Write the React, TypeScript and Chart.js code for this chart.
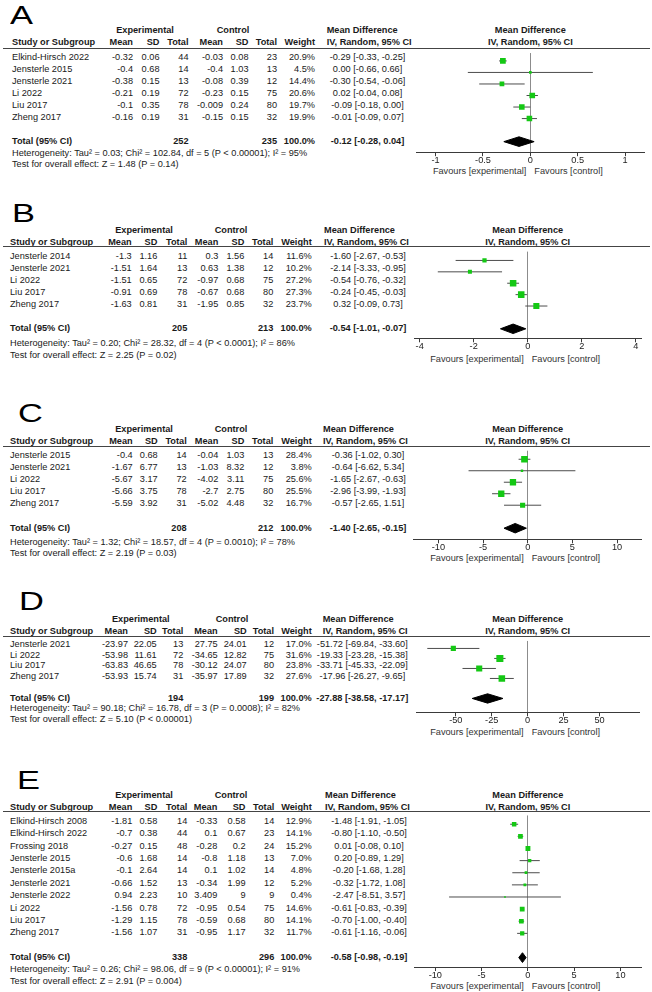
import React, { useEffect, useRef } from "react";
import { Chart, registerables } from "chart.js";

Chart.register(...registerables);

const FONT = '"Liberation Sans", Arial, Helvetica, sans-serif';
const TEXT = "#1a1a1a";
const GREEN = "#14c814";
const CI_COLOR = "#4d4d4d";
const ZERO_COLOR = "#8c8c8c";
const AXIS_COLOR = "#3a3a3a";
const FS = 9.2;

// ---------------- Panel A ----------------
const A_STUDIES = ["Elkind-Hirsch 2022", "Jensterle 2015", "Jensterle 2021", "Li 2022", "Liu 2017", "Zheng 2017"];
const A_EXP_MEAN = [-0.32, -0.4, -0.38, -0.21, -0.1, -0.16];
const A_EXP_SD = [0.06, 0.68, 0.15, 0.19, 0.35, 0.19];
const A_EXP_N = [44, 14, 13, 72, 78, 31];
const A_CTL_MEAN = [-0.03, -0.4, -0.08, -0.23, -0.009, -0.15];
const A_CTL_SD = [0.08, 1.03, 0.39, 0.15, 0.24, 0.15];
const A_CTL_N = [23, 13, 12, 75, 80, 32];
const A_WEIGHT = [20.9, 4.5, 14.4, 20.6, 19.7, 19.9];
const A_MD = [-0.29, 0.0, -0.3, 0.02, -0.09, -0.01];
const A_LO = [-0.33, -0.66, -0.54, -0.04, -0.18, -0.09];
const A_HI = [-0.25, 0.66, -0.06, 0.08, 0.0, 0.07];
const A_TOTAL_N = [252, 235];
const A_TOTAL = [-0.12, -0.28, 0.04];
const A_HET = "Heterogeneity: Tau² = 0.03; Chi² = 102.84, df = 5 (P < 0.00001); I² = 95%";
const A_TEST = "Test for overall effect: Z = 1.48 (P = 0.14)";
const A_TICKS = [-1, -0.5, 0, 0.5, 1];
const A_TICK_LABELS = ["-1", "-0.5", "0", "0.5", "1"];
const A_RANGE = [-1.2, 1.2];

// ---------------- Panel B ----------------
const B_STUDIES = ["Jensterle 2014", "Jensterle 2021", "Li 2022", "Liu 2017", "Zheng 2017"];
const B_EXP_MEAN = [-1.3, -1.51, -1.51, -0.91, -1.63];
const B_EXP_SD = [1.16, 1.64, 0.65, 0.69, 0.81];
const B_EXP_N = [11, 13, 72, 78, 31];
const B_CTL_MEAN = [0.3, 0.63, -0.97, -0.67, -1.95];
const B_CTL_SD = [1.56, 1.38, 0.68, 0.68, 0.85];
const B_CTL_N = [14, 12, 75, 80, 32];
const B_WEIGHT = [11.6, 10.2, 27.2, 27.3, 23.7];
const B_MD = [-1.6, -2.14, -0.54, -0.24, 0.32];
const B_LO = [-2.67, -3.33, -0.76, -0.45, -0.09];
const B_HI = [-0.53, -0.95, -0.32, -0.03, 0.73];
const B_TOTAL_N = [205, 213];
const B_TOTAL = [-0.54, -1.01, -0.07];
const B_HET = "Heterogeneity: Tau² = 0.20; Chi² = 28.32, df = 4 (P < 0.0001); I² = 86%";
const B_TEST = "Test for overall effect: Z = 2.25 (P = 0.02)";
const B_TICKS = [-4, -2, 0, 2, 4];
const B_TICK_LABELS = ["-4", "-2", "0", "2", "4"];
const B_RANGE = [-4.2, 4.2];

// ---------------- Panel C ----------------
const C_STUDIES = ["Jensterle 2015", "Jensterle 2021", "Li 2022", "Liu 2017", "Zheng 2017"];
const C_EXP_MEAN = [-0.4, -1.67, -5.67, -5.66, -5.59];
const C_EXP_SD = [0.68, 6.77, 3.17, 3.75, 3.92];
const C_EXP_N = [14, 13, 72, 78, 31];
const C_CTL_MEAN = [-0.04, -1.03, -4.02, -2.7, -5.02];
const C_CTL_SD = [1.03, 8.32, 3.11, 2.75, 4.48];
const C_CTL_N = [13, 12, 75, 80, 32];
const C_WEIGHT = [28.4, 3.8, 25.6, 25.5, 16.7];
const C_MD = [-0.36, -0.64, -1.65, -2.96, -0.57];
const C_LO = [-1.02, -6.62, -2.67, -3.99, -2.65];
const C_HI = [0.3, 5.34, -0.63, -1.93, 1.51];
const C_TOTAL_N = [208, 212];
const C_TOTAL = [-1.4, -2.65, -0.15];
const C_HET = "Heterogeneity: Tau² = 1.32; Chi² = 18.57, df = 4 (P = 0.0010); I² = 78%";
const C_TEST = "Test for overall effect: Z = 2.19 (P = 0.03)";
const C_TICKS = [-10, -5, 0, 5, 10];
const C_TICK_LABELS = ["-10", "-5", "0", "5", "10"];
const C_RANGE = [-12.75, 12.75];

// ---------------- Panel D ----------------
const D_STUDIES = ["Jensterle 2021", "Li 2022", "Liu 2017", "Zheng 2017"];
const D_EXP_MEAN = [-23.97, -53.98, -63.83, -53.93];
const D_EXP_SD = [22.05, 11.61, 46.65, 15.74];
const D_EXP_N = [13, 72, 78, 31];
const D_CTL_MEAN = [27.75, -34.65, -30.12, -35.97];
const D_CTL_SD = [24.01, 12.82, 24.07, 17.89];
const D_CTL_N = [12, 75, 80, 32];
const D_WEIGHT = [17.0, 31.6, 23.8, 27.6];
const D_MD = [-51.72, -19.33, -33.71, -17.96];
const D_LO = [-69.84, -23.28, -45.33, -26.27];
const D_HI = [-33.6, -15.38, -22.09, -9.65];
const D_TOTAL_N = [194, 199];
const D_TOTAL = [-27.88, -38.58, -17.17];
const D_HET = "Heterogeneity: Tau² = 90.18; Chi² = 16.78, df = 3 (P = 0.0008); I² = 82%";
const D_TEST = "Test for overall effect: Z = 5.10 (P < 0.00001)";
const D_TICKS = [-50, -25, 0, 25, 50];
const D_TICK_LABELS = ["-50", "-25", "0", "25", "50"];
const D_RANGE = [-77.7, 77.7];

// ---------------- Panel E ----------------
const E_STUDIES = [
  "Elkind-Hirsch 2008", "Elkind-Hirsch 2022", "Frossing 2018", "Jensterle 2015", "Jensterle 2015a",
  "Jensterle 2021", "Jensterle 2022", "Li 2022", "Liu 2017", "Zheng 2017",
];
const E_EXP_MEAN = [-1.81, -0.7, -0.27, -0.6, -0.1, -0.66, 0.94, -1.56, -1.29, -1.56];
const E_EXP_SD = [0.58, 0.38, 0.15, 1.68, 2.64, 1.52, 2.23, 0.78, 1.15, 1.07];
const E_EXP_N = [14, 44, 48, 14, 14, 13, 10, 72, 78, 31];
const E_CTL_MEAN = [-0.33, 0.1, -0.28, -0.8, 0.1, -0.34, 3.409, -0.95, -0.59, -0.95];
const E_CTL_SD = [0.58, 0.67, 0.2, 1.18, 1.02, 1.99, 9, 0.54, 0.68, 1.17];
const E_CTL_N = [14, 23, 24, 13, 14, 12, 9, 75, 80, 32];
const E_WEIGHT = [12.9, 14.1, 15.2, 7.0, 4.8, 5.2, 0.4, 14.6, 14.1, 11.7];
const E_MD = [-1.48, -0.8, 0.01, 0.2, -0.2, -0.32, -2.47, -0.61, -0.7, -0.61];
const E_LO = [-1.91, -1.1, -0.08, -0.89, -1.68, -1.72, -8.51, -0.83, -1.0, -1.16];
const E_HI = [-1.05, -0.5, 0.1, 1.29, 1.28, 1.08, 3.57, -0.39, -0.4, -0.06];
const E_TOTAL_N = [338, 296];
const E_TOTAL = [-0.58, -0.98, -0.19];
const E_HET = "Heterogeneity: Tau² = 0.26; Chi² = 98.06, df = 9 (P < 0.00001); I² = 91%";
const E_TEST = "Test for overall effect: Z = 2.91 (P = 0.004)";
const E_TICKS = [-10, -5, 0, 5, 10];
const E_TICK_LABELS = ["-10", "-5", "0", "5", "10"];
const E_RANGE = [-12.3, 12.3];

type Panel = {
  letter: string;
  studies: string[];
  expMean: number[];
  expSd: number[];
  expN: number[];
  ctlMean: number[];
  ctlSd: number[];
  ctlN: number[];
  weight: number[];
  md: number[];
  lo: number[];
  hi: number[];
  totalN: number[];
  total: number[];
  het: string;
  test: string;
  ticks: number[];
  tickLabels: string[];
  range: number[];
};

const PANELS: Panel[] = [
  { letter: "A", studies: A_STUDIES, expMean: A_EXP_MEAN, expSd: A_EXP_SD, expN: A_EXP_N, ctlMean: A_CTL_MEAN, ctlSd: A_CTL_SD, ctlN: A_CTL_N, weight: A_WEIGHT, md: A_MD, lo: A_LO, hi: A_HI, totalN: A_TOTAL_N, total: A_TOTAL, het: A_HET, test: A_TEST, ticks: A_TICKS, tickLabels: A_TICK_LABELS, range: A_RANGE },
  { letter: "B", studies: B_STUDIES, expMean: B_EXP_MEAN, expSd: B_EXP_SD, expN: B_EXP_N, ctlMean: B_CTL_MEAN, ctlSd: B_CTL_SD, ctlN: B_CTL_N, weight: B_WEIGHT, md: B_MD, lo: B_LO, hi: B_HI, totalN: B_TOTAL_N, total: B_TOTAL, het: B_HET, test: B_TEST, ticks: B_TICKS, tickLabels: B_TICK_LABELS, range: B_RANGE },
  { letter: "C", studies: C_STUDIES, expMean: C_EXP_MEAN, expSd: C_EXP_SD, expN: C_EXP_N, ctlMean: C_CTL_MEAN, ctlSd: C_CTL_SD, ctlN: C_CTL_N, weight: C_WEIGHT, md: C_MD, lo: C_LO, hi: C_HI, totalN: C_TOTAL_N, total: C_TOTAL, het: C_HET, test: C_TEST, ticks: C_TICKS, tickLabels: C_TICK_LABELS, range: C_RANGE },
  { letter: "D", studies: D_STUDIES, expMean: D_EXP_MEAN, expSd: D_EXP_SD, expN: D_EXP_N, ctlMean: D_CTL_MEAN, ctlSd: D_CTL_SD, ctlN: D_CTL_N, weight: D_WEIGHT, md: D_MD, lo: D_LO, hi: D_HI, totalN: D_TOTAL_N, total: D_TOTAL, het: D_HET, test: D_TEST, ticks: D_TICKS, tickLabels: D_TICK_LABELS, range: D_RANGE },
  { letter: "E", studies: E_STUDIES, expMean: E_EXP_MEAN, expSd: E_EXP_SD, expN: E_EXP_N, ctlMean: E_CTL_MEAN, ctlSd: E_CTL_SD, ctlN: E_CTL_N, weight: E_WEIGHT, md: E_MD, lo: E_LO, hi: E_HI, totalN: E_TOTAL_N, total: E_TOTAL, het: E_HET, test: E_TEST, ticks: E_TICKS, tickLabels: E_TICK_LABELS, range: E_RANGE },
];

// ---------------- Layout (positions only) ----------------
type Layout = {
  letterX: number; capTop: number; hdr1: number; hdr2: number; line: number; row0: number; step: number;
  axis: number; fav: number; het: number; test: number; plotL: number; plotR: number;
  study: number; mean: number; sd: number; tot: number; cmean: number; csd: number; ctot: number;
  weight: number; ciC: number; ciHdr: number; expC: number; ctlC: number;
};

const LAYOUTS: Layout[] = [
  { letterX: 10, capTop: 5, hdr1: 30, hdr2: 42, line: 48.5, row0: 56.7, step: 12, axis: 151.7, fav: 170.7, het: 152.5, test: 164, plotL: 416.7, plotR: 644,
    study: 12, mean: 133, sd: 159.5, tot: 188.5, cmean: 223, csd: 248.5, ctot: 277, weight: 315, ciC: 367.5, ciHdr: 326.7, expC: 145, ctlC: 233 },
  { letterX: 11.5, capTop: 203.3, hdr1: 230, hdr2: 241.7, line: 246.7, row0: 256, step: 12, axis: 338, fav: 359, het: 343.3, test: 355, plotL: 414.3, plotR: 641.1,
    study: 10, mean: 131.7, sd: 157.3, tot: 187.3, cmean: 218.3, csd: 244.3, ctot: 273.3, weight: 311.7, ciC: 368, ciHdr: 324, expC: 144, ctlC: 231 },
  { letterX: 18, capTop: 403.3, hdr1: 429.3, hdr2: 441, line: 446, row0: 455, step: 12.1, axis: 539.3, fav: 558.3, het: 541.5, test: 553, plotL: 413.8, plotR: 641.6,
    study: 10, mean: 132.7, sd: 157.7, tot: 186.7, cmean: 218.3, csd: 244.3, ctot: 273.3, weight: 311.7, ciC: 368, ciHdr: 323, expC: 144, ctlC: 231 },
  { letterX: 19, capTop: 591.7, hdr1: 619.3, hdr2: 631, line: 636, row0: 644, step: 10.7, axis: 712.3, fav: 731.7, het: 708, test: 718.5, plotL: 416, plotR: 639.3,
    study: 10, mean: 128, sd: 156.7, tot: 183.3, cmean: 217.7, csd: 246.7, ctot: 274, weight: 311.7, ciC: 362.3, ciHdr: 322.7, expC: 140.8, ctlC: 232 },
  { letterX: 17, capTop: 770, hdr1: 795, hdr2: 806.7, line: 811.7, row0: 820.7, step: 12.4, axis: 966.7, fav: 985.7, het: 969.3, test: 980.7, plotL: 414, plotR: 641.7,
    study: 10, mean: 132.3, sd: 157.3, tot: 187.3, cmean: 217.3, csd: 245.5, ctot: 274.3, weight: 311.7, ciC: 369, ciHdr: 325, expC: 144, ctlC: 231 },
];

const CANVAS_LEFT = 400;
const CANVAS_W = 252;
const XSCALE_H = 20;
const LETTER_FS = 26.5;

function T({ x, y, a = "l", b = false, children, color = TEXT }: { x: number; y: number; a?: string; b?: boolean; children: any; color?: string }) {
  const tx = a === "r" ? "translateX(-100%)" : a === "c" ? "translateX(-50%)" : "none";
  return (
    <div
      style={{
        position: "absolute",
        left: x,
        top: y - 6,
        lineHeight: "12px",
        fontSize: FS,
        fontFamily: FONT,
        fontWeight: b ? 700 : 400,
        whiteSpace: "nowrap",
        transform: tx,
        color,
      }}
    >
      {children}
    </div>
  );
}

const fmtCI = (m: number, lo: number, hi: number) => `${m.toFixed(2)} [${lo.toFixed(2)}, ${hi.toFixed(2)}]`;

function ForestChart({ p, l }: { p: Panel; l: Layout }) {
  const ref = useRef<HTMLCanvasElement | null>(null);
  useEffect(() => {
    if (!ref.current) return;
    const n = p.studies.length;
    const totalRow = n + 1;
    const yMin = (l.line - l.row0) / l.step;
    const yMax = (l.axis - l.row0) / l.step;
    const dh = 5 / l.step;
    const [tm, tlo, thi] = p.total;
    const datasets: any[] = [];
    datasets.push({
      type: "scatter",
      data: p.md.map((m, i) => ({ x: m, y: i })),
      pointStyle: "rect",
      pointRadius: p.weight.map((w) => Math.max(1.25 * Math.sqrt(w), 1.7) / Math.SQRT2),
      pointHoverRadius: p.weight.map((w) => Math.max(1.25 * Math.sqrt(w), 1.7) / Math.SQRT2),
      backgroundColor: GREEN,
      borderColor: GREEN,
      pointBorderWidth: 0,
      showLine: false,
      order: 0,
    });
    datasets.push({
      type: "line",
      data: [
        { x: tlo, y: totalRow },
        { x: tm, y: totalRow - dh },
        { x: thi, y: totalRow },
        { x: tm, y: totalRow + dh },
        { x: tlo, y: totalRow },
      ],
      borderColor: "#000",
      backgroundColor: "#000",
      borderWidth: 1,
      pointRadius: 0,
      fill: "shape",
      showLine: true,
      tension: 0,
      order: 1,
    });
    p.lo.forEach((lo, i) => {
      datasets.push({
        type: "line",
        data: [
          { x: lo, y: i },
          { x: p.hi[i], y: i },
        ],
        borderColor: CI_COLOR,
        borderWidth: 1,
        pointRadius: 0,
        showLine: true,
        fill: false,
        order: 2,
      });
    });
    const chart = new Chart(ref.current, {
      type: "scatter",
      data: { datasets },
      options: {
        animation: false,
        responsive: true,
        maintainAspectRatio: false,
        events: [],
        layout: { padding: { left: l.plotL - CANVAS_LEFT, right: CANVAS_LEFT + CANVAS_W - l.plotR, top: 0, bottom: 0 } },
        plugins: { legend: { display: false }, tooltip: { enabled: false }, title: { display: false } },
        scales: {
          x: {
            type: "linear",
            min: p.range[0],
            max: p.range[1],
            afterBuildTicks: (s: any) => {
              s.ticks = p.ticks.map((v) => ({ value: v }));
            },
            afterFit: (s: any) => {
              s.height = XSCALE_H;
            },
            grid: {
              color: (ctx: any) => (ctx.tick && ctx.tick.value === 0 ? ZERO_COLOR : "rgba(0,0,0,0)"),
              lineWidth: 1,
              drawTicks: true,
              tickLength: 4,
              tickColor: AXIS_COLOR,
            },
            border: { display: true, color: AXIS_COLOR, width: 1 },
            ticks: {
              autoSkip: false,
              maxRotation: 0,
              padding: 0,
              color: "#222",
              font: { family: FONT, size: FS, lineHeight: 1 },
              callback: (_v: any, i: number) => p.tickLabels[i],
            },
          },
          y: { type: "linear", display: false, reverse: true, min: yMin, max: yMax },
        },
      } as any,
    });
    return () => chart.destroy();
  }, [p, l]);
  return (
    <div style={{ position: "absolute", left: CANVAS_LEFT, top: l.line, width: CANVAS_W, height: l.axis - l.line + XSCALE_H }}>
      <canvas ref={ref} />
    </div>
  );
}

function PanelView({ p, l }: { p: Panel; l: Layout }) {
  const n = p.studies.length;
  const rowY = (i: number) => l.row0 + i * l.step;
  const totY = rowY(n + 1);
  const zeroX = l.plotL + ((0 - p.range[0]) / (p.range[1] - p.range[0])) * (l.plotR - l.plotL);
  return (
    <>
      <div
        style={{
          position: "absolute",
          left: l.letterX,
          top: l.capTop - 0.1305 * LETTER_FS,
          fontSize: LETTER_FS,
          lineHeight: `${LETTER_FS}px`,
          fontFamily: FONT,
          color: "#000",
          transform: "scaleX(1.3)",
          transformOrigin: "left top",
        }}
      >
        {p.letter}
      </div>
      <T x={l.expC} y={l.hdr1} a="c" b>Experimental</T>
      <T x={l.ctlC} y={l.hdr1} a="c" b>Control</T>
      <T x={l.ciHdr} y={l.hdr1} b>Mean Difference</T>
      <T x={zeroX} y={l.hdr1} a="c" b>Mean Difference</T>
      <T x={l.study} y={l.hdr2} b>Study or Subgroup</T>
      <T x={l.mean} y={l.hdr2} a="r" b>Mean</T>
      <T x={l.sd} y={l.hdr2} a="r" b>SD</T>
      <T x={l.tot} y={l.hdr2} a="r" b>Total</T>
      <T x={l.cmean} y={l.hdr2} a="r" b>Mean</T>
      <T x={l.csd} y={l.hdr2} a="r" b>SD</T>
      <T x={l.ctot} y={l.hdr2} a="r" b>Total</T>
      <T x={l.weight} y={l.hdr2} a="r" b>Weight</T>
      <T x={l.ciHdr} y={l.hdr2} b>IV, Random, 95% CI</T>
      <T x={zeroX} y={l.hdr2} a="c" b>IV, Random, 95% CI</T>
      <div style={{ position: "absolute", left: 3, top: l.line - 0.5, width: 647, height: 0, borderTop: "1px solid #444" }} />
      {p.studies.map((s, i) => (
        <React.Fragment key={s}>
          <T x={l.study} y={rowY(i)}>{s}</T>
          <T x={l.mean} y={rowY(i)} a="r">{String(p.expMean[i])}</T>
          <T x={l.sd} y={rowY(i)} a="r">{String(p.expSd[i])}</T>
          <T x={l.tot} y={rowY(i)} a="r">{String(p.expN[i])}</T>
          <T x={l.cmean} y={rowY(i)} a="r">{String(p.ctlMean[i])}</T>
          <T x={l.csd} y={rowY(i)} a="r">{String(p.ctlSd[i])}</T>
          <T x={l.ctot} y={rowY(i)} a="r">{String(p.ctlN[i])}</T>
          <T x={l.weight} y={rowY(i)} a="r">{p.weight[i].toFixed(1) + "%"}</T>
          <T x={l.ciC} y={rowY(i)} a="c">{fmtCI(p.md[i], p.lo[i], p.hi[i])}</T>
        </React.Fragment>
      ))}
      <T x={l.study} y={totY} b>Total (95% CI)</T>
      <T x={l.tot} y={totY} a="r" b>{String(p.totalN[0])}</T>
      <T x={l.ctot} y={totY} a="r" b>{String(p.totalN[1])}</T>
      <T x={l.weight} y={totY} a="r" b>100.0%</T>
      <T x={l.ciC} y={totY} a="c" b>{fmtCI(p.total[0], p.total[1], p.total[2])}</T>
      <T x={l.study} y={l.het}>{p.het}</T>
      <T x={l.study} y={l.test}>{p.test}</T>
      <T x={zeroX - 4} y={l.fav} a="r" color="#333">Favours [experimental]</T>
      <T x={zeroX + 4} y={l.fav} color="#333">Favours [control]</T>
      <ForestChart p={p} l={l} />
    </>
  );
}

export default function App() {
  return (
    <div
      style={{
        position: "absolute",
        left: 0,
        top: 0,
        width: 652,
        height: 992,
        background: "#fff",
        overflow: "hidden",
      }}
    >
      {PANELS.map((p, i) => (
        <PanelView key={p.letter} p={p} l={LAYOUTS[i]} />
      ))}
    </div>
  );
}
